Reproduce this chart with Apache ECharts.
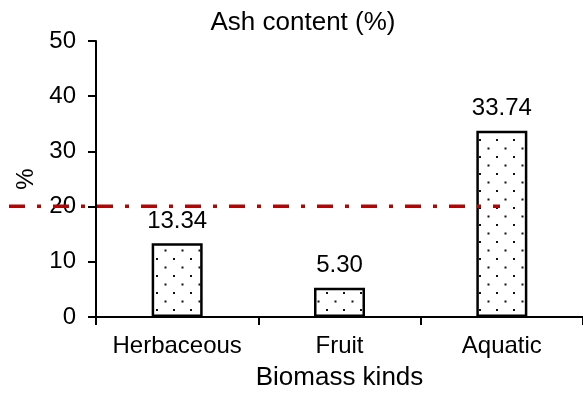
<!DOCTYPE html>
<html>
<head>
<meta charset="utf-8">
<script src="https://cdn.jsdelivr.net/npm/echarts@6/dist/echarts.min.js"></script>
<style>
html,body{margin:0;padding:0;background:#fff;}
#chart{width:583px;height:396px;}
</style>
</head>
<body>
<div id="chart"></div>
<script>
var categories = ['Herbaceous', 'Fruit', 'Aquatic'];
var ashValues = [13.34, 5.30, 33.74];
var yTicks = [0, 10, 20, 30, 40, 50];
var referenceLevel = [20.6];

var FONT = 'Liberation Sans, Arial, sans-serif';

function makePattern() {
  var c = document.createElement('canvas');
  c.width = 17; c.height = 17;
  var ctx = c.getContext('2d');
  ctx.fillStyle = '#ffffff';
  ctx.fillRect(0, 0, 17, 17);
  ctx.fillStyle = '#111111';
  ctx.fillRect(3, 3, 2, 2);
  ctx.fillRect(11.5, 11.5, 2, 2);
  return c;
}

var chart = echarts.init(document.getElementById('chart'), null, {renderer: 'canvas'});
var option = {
  backgroundColor: '#ffffff',
  animation: false,
  textStyle: {fontFamily: FONT},
  title: {
    text: 'Ash content (%)',
    left: 303,
    textAlign: 'center',
    top: 10,
    padding: 0,
    textStyle: {fontFamily: FONT, fontSize: 26, fontWeight: 'normal', color: '#000'}
  },
  grid: [
    {left: 96, right: 0, top: 41, bottom: 74, containLabel: false},
    {left: 9, right: 83, top: 41, bottom: 74, containLabel: false}
  ],
  xAxis: [
    {
      type: 'category',
      gridIndex: 0,
      data: categories,
      name: 'Biomass kinds',
      nameLocation: 'middle',
      nameGap: 48,
      nameTextStyle: {fontFamily: FONT, fontSize: 26, color: '#000'},
      axisLine: {lineStyle: {color: '#000', width: 2}},
      axisTick: {show: true, inside: false, length: 8, interval: 0, lineStyle: {color: '#000', width: 2}},
      axisLabel: {fontFamily: FONT, fontSize: 24, color: '#000', margin: 17, interval: 0, hideOverlap: false},
      splitLine: {show: false}
    },
    {
      type: 'value',
      gridIndex: 1,
      min: 0, max: 1,
      show: false
    }
  ],
  yAxis: [
    {
      type: 'value',
      gridIndex: 0,
      min: yTicks[0],
      max: yTicks[yTicks.length - 1],
      interval: yTicks[1] - yTicks[0],
      name: '%',
      nameLocation: 'middle',
      nameGap: 58,
      nameRotate: 90,
      nameTextStyle: {fontFamily: FONT, fontSize: 24, color: '#000'},
      axisLine: {show: true, lineStyle: {color: '#000', width: 2}},
      axisTick: {show: true, inside: false, length: 8, lineStyle: {color: '#000', width: 2}},
      axisLabel: {fontFamily: FONT, fontSize: 24, color: '#000', margin: 20},
      splitLine: {show: false}
    },
    {
      type: 'value',
      gridIndex: 1,
      min: yTicks[0],
      max: yTicks[yTicks.length - 1],
      show: false
    }
  ],
  series: [
    {
      type: 'bar',
      xAxisIndex: 0,
      yAxisIndex: 0,
      data: ashValues,
      barWidth: 51,
      itemStyle: {
        color: {image: makePattern(), repeat: 'repeat'},
        borderColor: '#000',
        borderWidth: 2.5
      },
      label: {
        show: true,
        position: 'top',
        distance: 10,
        fontFamily: FONT,
        fontSize: 24,
        color: '#000',
        formatter: function (p) { return p.value.toFixed(2); }
      },
      z: 2
    },
    {
      type: 'line',
      xAxisIndex: 1,
      yAxisIndex: 1,
      data: [[0, referenceLevel[0]], [1, referenceLevel[0]]],
      symbol: 'none',
      lineStyle: {color: '#c00000', width: 3.5, type: [16, 12, 4, 12]},
      z: 10,
      silent: true
    }
  ]
};
chart.setOption(option);
</script>
</body>
</html>
